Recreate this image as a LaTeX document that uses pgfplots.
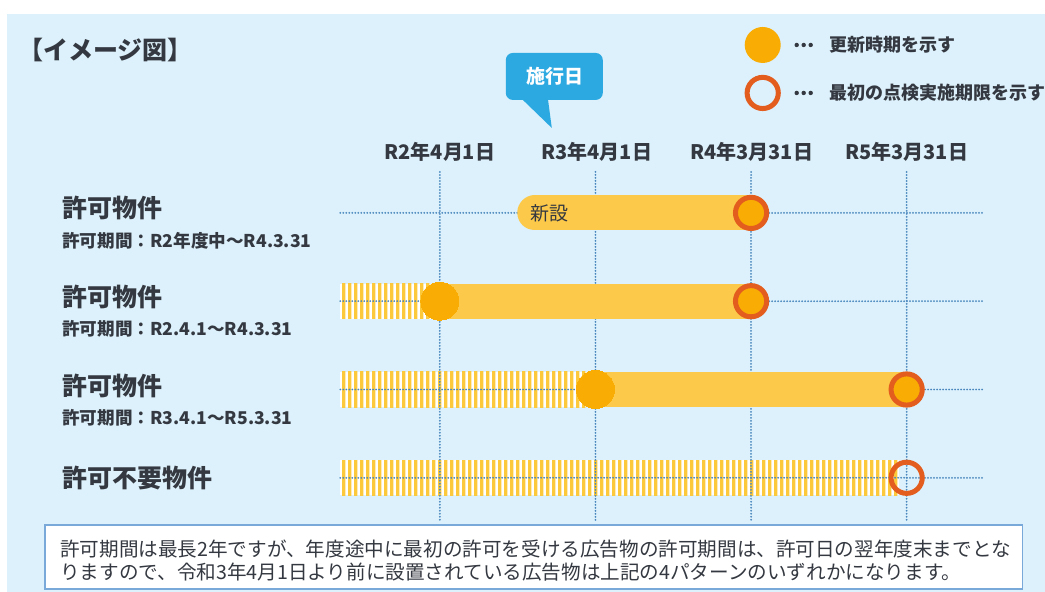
\documentclass[border=0pt]{standalone}
\usepackage{pgfplots}
\pgfplotsset{compat=1.18}
\usepackage{fontspec}
\setmainfont{Noto Sans CJK JP}
\usetikzlibrary{patterns.meta}

\definecolor{bg}{HTML}{DCF1FB}
\definecolor{ink}{HTML}{343840}
\definecolor{barc}{HTML}{FCC94A}
\definecolor{dotc}{HTML}{F9AC03}
\definecolor{ringc}{HTML}{E35D1E}
\definecolor{gridc}{HTML}{4A86BE}
\definecolor{callc}{HTML}{2DA9E2}
\definecolor{boxc}{HTML}{79A9D8}
\definecolor{stripec}{HTML}{FCC93C}

% vertical stripes for the period before the permit
\tikzdeclarepattern{
  name=vstripes,
  type=uncolored,
  bottom left={(0pt,0pt)},
  top right={(2.9pt,2pt)},
  tile size={(2.9pt,2pt)},
  code={\fill (0pt,0pt) rectangle (1.7pt,2pt);}
}

\newcommand{\fs}[1]{\fontsize{#1}{1.2\dimexpr#1\relax}\selectfont}

\begin{document}
\begin{tikzpicture}
% page, in pixels of the reference (1px = 0.5pt)
\begin{scope}[x=0.5pt,y=-0.5pt,shift={(0,296pt)}]
  \fill[white] (0,0) rectangle (1045,592);
  \fill[bg] (7,14) rectangle (1045,592);
  \node[anchor=west,inner sep=0,text=ink] at (18,50) {\fs{12.5pt}\bfseries 【イメージ図】};
  % callout
  \fill[callc,rounded corners=3.5pt] (506,53) rectangle (603,100);
  \fill[callc] (521,98) -- (552,128) -- (548,98) -- cycle;
  \node[inner sep=0,text=white] at (555,76) {\fs{9.5pt}\bfseries 施行日};
  % legend
  \fill[dotc] (763,45) circle (9pt);
  \draw[ringc,line width=2.5pt] (763,93) circle (7.8pt);
  \foreach \y in {45,93} {
    \foreach \x in {797,804,811} \fill[ink] (\x,\y) circle (1.1pt);
  }
  \node[anchor=west,inner sep=0,text=ink] at (829,45) {\fs{9pt}\bfseries 更新時期を示す};
  \node[anchor=west,inner sep=0,text=ink] at (829,93) {\fs{9pt}\bfseries 最初の点検実施期限を示す};
  % column heads
  \foreach \x/\t in {440/R2年4月1日,597/R3年4月1日,752/R4年3月31日,907/R5年3月31日}
    \node[inner sep=0,text=ink] at (\x,152) {\fs{10pt}\bfseries \t};
  % row labels
  \node[anchor=west,inner sep=0,text=ink] at (62,208) {\fs{12.5pt}\bfseries 許可物件};
  \node[anchor=west,inner sep=0,text=ink] at (62,241) {\fs{8.8pt}\bfseries 許可期間：R2年度中～R4.3.31};
  \node[anchor=west,inner sep=0,text=ink] at (62,297) {\fs{12.5pt}\bfseries 許可物件};
  \node[anchor=west,inner sep=0,text=ink] at (62,329) {\fs{8.8pt}\bfseries 許可期間：R2.4.1～R4.3.31};
  \node[anchor=west,inner sep=0,text=ink] at (62,386) {\fs{12.5pt}\bfseries 許可物件};
  \node[anchor=west,inner sep=0,text=ink] at (62,418) {\fs{8.8pt}\bfseries 許可期間：R3.4.1～R5.3.31};
  \node[anchor=west,inner sep=0,text=ink] at (62,478) {\fs{12.5pt}\bfseries 許可不要物件};
  % note box
  \filldraw[fill=white,draw=boxc,line width=0.75pt] (45,525) rectangle (1023,589);
  \node[anchor=west,inner sep=0,text=ink] at (60,549) {\fs{9.8pt}許可期間は最長2年ですが、年度途中に最初の許可を受ける広告物の許可期間は、許可日の翌年度末までとな};
  \node[anchor=west,inner sep=0,text=ink] at (60,572) {\fs{9.8pt}りますので、令和3年4月1日より前に設置されている広告物は上記の4パターンのいずれかになります。};
\end{scope}

% x: fiscal year (2 = R2.4.1, 3 = R3.4.1, 4 = R4.3.31, 5 = R5.3.31); y: row
\begin{axis}[
  at={(0,0)}, anchor=south west,
  scale only axis, width=522.5pt, height=296pt,
  xmin=-0.8266, xmax=5.8865, ymin=-5.2907, ymax=1.4114,
  hide axis, clip=false,
]
% period before the permit (striped)
\addplot[draw=none, fill=white, postaction={pattern=vstripes, pattern color=stripec}]
  coordinates {(1.36,-1.8) (2,-1.8) (2,-2.2) (1.36,-2.2)};
\addplot[draw=none, fill=white, postaction={pattern=vstripes, pattern color=stripec}]
  coordinates {(1.36,-2.8) (3,-2.8) (3,-3.2) (1.36,-3.2)};
\addplot[draw=none, fill=white, postaction={pattern=vstripes, pattern color=stripec}]
  coordinates {(1.36,-3.8) (4.95,-3.8) (4.95,-4.2) (1.36,-4.2)};

% dotted guide lines
\pgfplotsset{guide/.style={gridc, line width=1pt, line cap=round, dash pattern=on 0pt off 1.5pt}}
\addplot[guide] coordinates {(2,-0.536) (2,-4.48)};
\addplot[guide] coordinates {(3,-0.536) (3,-4.48)};
\addplot[guide] coordinates {(4,-0.536) (4,-4.48)};
\addplot[guide] coordinates {(5,-0.536) (5,-4.48)};
\addplot[guide] coordinates {(1.36,-1) (5.5,-1)};
\addplot[guide] coordinates {(1.36,-2) (5.5,-2)};
\addplot[guide] coordinates {(1.36,-3) (5.5,-3)};
\addplot[guide] coordinates {(1.36,-4) (5.5,-4)};

% permit periods
\addplot[barc, line width=17.5pt, line cap=round] coordinates {(2.61,-1) (4,-1)};
\addplot[barc, line width=17.5pt] coordinates {(2,-2) (4,-2)};
\addplot[barc, line width=17.5pt] coordinates {(3,-3) (5,-3)};

% renewal dates
\addplot[only marks, mark=*, mark size=9.5pt, mark options={draw=dotc, fill=dotc, line width=0pt}]
  coordinates {(2,-2) (3,-3)};
% first inspection deadlines
\addplot[only marks, mark=*, mark size=7.8pt, mark options={draw=ringc, line width=2.5pt, fill=dotc}]
  coordinates {(4,-1) (4,-2) (5,-3)};
\addplot[only marks, mark=o, mark size=7.8pt, mark options={draw=ringc, line width=2.5pt}]
  coordinates {(5,-4)};
\end{axis}

\node[anchor=west,inner sep=0,text=ink] at (265pt,189.5pt) {\fs{9.5pt}新設};
\end{tikzpicture}
\end{document}
